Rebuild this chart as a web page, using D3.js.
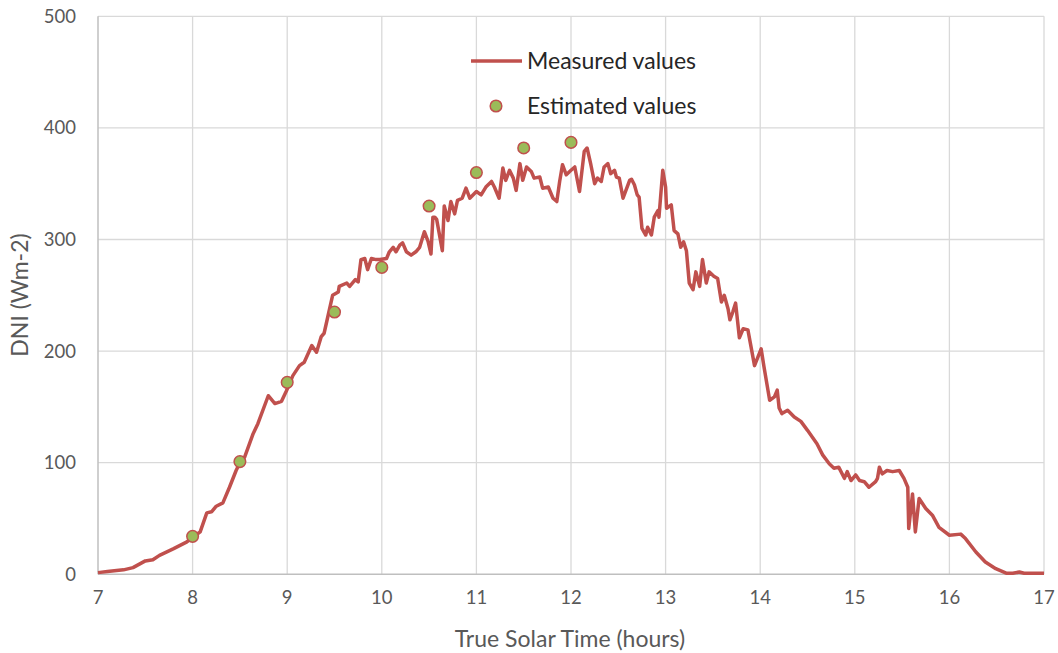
<!DOCTYPE html>
<html><head><meta charset="utf-8">
<script src="https://cdn.jsdelivr.net/npm/d3@7"></script>
<style>body{margin:0;background:#fff}svg{display:block}text{font-family:Lato,"Open Sans",sans-serif}</style>
</head><body><svg id="c" width="1058" height="653"></svg>
<script>
const measuredTime = [7.00,7.10,7.27,7.37,7.50,7.58,7.65,7.80,7.94,8.00,8.08,8.15,8.20,8.25,8.32,8.39,8.46,8.50,8.55,8.64,8.69,8.80,8.87,8.94,8.99,9.06,9.13,9.18,9.26,9.31,9.36,9.39,9.43,9.48,9.54,9.55,9.63,9.66,9.72,9.75,9.78,9.82,9.85,9.89,9.94,9.98,10.05,10.08,10.12,10.15,10.19,10.22,10.26,10.31,10.36,10.40,10.45,10.49,10.52,10.54,10.56,10.58,10.64,10.66,10.70,10.73,10.77,10.80,10.85,10.89,10.93,11.00,11.05,11.10,11.16,11.19,11.24,11.28,11.31,11.35,11.39,11.42,11.46,11.49,11.53,11.58,11.61,11.67,11.70,11.76,11.81,11.85,11.88,11.91,11.95,12.00,12.04,12.09,12.14,12.17,12.21,12.25,12.28,12.32,12.35,12.39,12.42,12.46,12.48,12.51,12.55,12.62,12.64,12.67,12.70,12.72,12.75,12.79,12.81,12.85,12.88,12.92,12.93,12.97,13.00,13.01,13.06,13.09,13.13,13.16,13.19,13.22,13.25,13.29,13.32,13.36,13.39,13.43,13.46,13.51,13.55,13.59,13.62,13.66,13.68,13.71,13.74,13.78,13.82,13.87,13.94,14.01,14.04,14.10,14.15,14.18,14.20,14.23,14.29,14.36,14.43,14.50,14.60,14.66,14.73,14.78,14.83,14.89,14.92,14.96,15.01,15.05,15.10,15.15,15.22,15.24,15.26,15.29,15.34,15.40,15.47,15.52,15.56,15.57,15.61,15.64,15.68,15.75,15.82,15.89,16.00,16.12,16.17,16.28,16.38,16.49,16.60,16.67,16.74,16.79,17.00];
const measuredDNI = [1.5,2.5,4,6,12,13,17,23,29,33,38,55,56,61,64,78,93,100,105,126,135,160,153,155,164,178,187,190,205,199,213,216,231,250,253,258,261,258,264,262,282,283,273,283,282,282,283,289,293,289,295,297,289,286,289,293,307,298,287,320,320,318,290,330,317,334,323,335,337,346,337,343,340,347,352,347,337,364,353,362,355,344,368,353,365,361,355,356,346,347,337,334,352,367,358,362,365,343,379,382,367,350,355,352,365,368,359,362,356,355,337,353,354,349,340,338,310,304,311,304,320,326,320,362,347,328,331,308,305,293,298,290,261,255,271,258,282,261,271,267,265,244,250,238,228,235,243,212,220,219,187,202,186,156,159,165,149,144,147,141,137,129,117,107,99,95,96,86,92,84,89,84,83,78,83,86,96,90,93,92,93,86,78,41,72,38,68,59,53,42,35,36,32,20,11,5,1,1,2,1,1];
const estimatedTime = [8,8.5,9,9.5,10,10.5,11,11.5,12];
const estimatedDNI = [34,101,172,235,275,330,360,382,387];
const xTicks = [7,8,9,10,11,12,13,14,15,16,17];
const yTicks = [0,100,200,300,400,500];
const seriesNames = ["Measured values","Estimated values"];
const xTitle = "True Solar Time (hours)";
const yTitle = "DNI (Wm-2)";

const svg = d3.select("#c");
const L=98, R=1044, T=16.3, B=574.3;
const x = d3.scaleLinear().domain([7,17]).range([L,R]);
const y = d3.scaleLinear().domain([0,500]).range([B,T]);
const lineCol="#c0504d", dotFill="#9bbb59", txt="#595959";

// grid
svg.append("g").selectAll("line").data(yTicks.slice(1)).join("line")
  .attr("x1",L).attr("x2",R).attr("y1",d=>y(d)).attr("y2",d=>y(d))
  .attr("stroke","#d9d9d9").attr("stroke-width",1.3);
svg.append("g").selectAll("line").data(xTicks.slice(1)).join("line")
  .attr("y1",T).attr("y2",B).attr("x1",d=>x(d)).attr("x2",d=>x(d))
  .attr("stroke","#d9d9d9").attr("stroke-width",1.3);
// axes lines
svg.append("line").attr("x1",L).attr("x2",L).attr("y1",T).attr("y2",B).attr("stroke","#bfbfbf").attr("stroke-width",1.5);
svg.append("line").attr("x1",L).attr("x2",R).attr("y1",B).attr("y2",B).attr("stroke","#bfbfbf").attr("stroke-width",1.5);

// tick labels
svg.append("g").selectAll("text").data(yTicks).join("text")
  .attr("x",76).attr("y",d=>y(d)).attr("dy","0.35em").attr("text-anchor","end")
  .attr("font-size",18.5).attr("fill",txt).text(d=>d);
svg.append("g").selectAll("text").data(xTicks).join("text")
  .attr("x",d=>x(d)).attr("y",598).attr("dy","0.35em").attr("text-anchor","middle")
  .attr("font-size",18.5).attr("fill",txt).text(d=>d);

// titles
svg.append("text").attr("x",570).attr("y",639).attr("dy","0.35em").attr("text-anchor","middle")
  .attr("font-size",23).attr("fill",txt).text(xTitle);
svg.append("text").attr("transform",`translate(20,295) rotate(-90)`).attr("dy","0.35em").attr("text-anchor","middle")
  .attr("font-size",23).attr("fill",txt).text(yTitle);

// measured line
const data = measuredTime.map((t,i)=>[t,measuredDNI[i]]);
svg.append("path").datum(data)
  .attr("d",d3.line().x(d=>x(d[0])).y(d=>y(d[1])))
  .attr("fill","none").attr("stroke",lineCol).attr("stroke-width",3.5).attr("stroke-linejoin","round");

// estimated dots
svg.append("g").selectAll("circle").data(estimatedTime.map((t,i)=>[t,estimatedDNI[i]])).join("circle")
  .attr("cx",d=>x(d[0])).attr("cy",d=>y(d[1])).attr("r",5.8)
  .attr("fill",dotFill).attr("stroke",lineCol).attr("stroke-width",1.5);

// legend
const lg = svg.append("g");
lg.append("line").attr("x1",471).attr("x2",522).attr("y1",61).attr("y2",61).attr("stroke",lineCol).attr("stroke-width",3.5);
lg.append("text").attr("x",527).attr("y",61).attr("dy","0.35em").attr("font-size",23).attr("fill","#262626").text(seriesNames[0]);
lg.append("circle").attr("cx",496).attr("cy",106).attr("r",5.8).attr("fill",dotFill).attr("stroke",lineCol).attr("stroke-width",1.5);
lg.append("text").attr("x",527).attr("y",106).attr("dy","0.35em").attr("font-size",23).attr("fill","#262626").text(seriesNames[1]);
</script></body></html>
